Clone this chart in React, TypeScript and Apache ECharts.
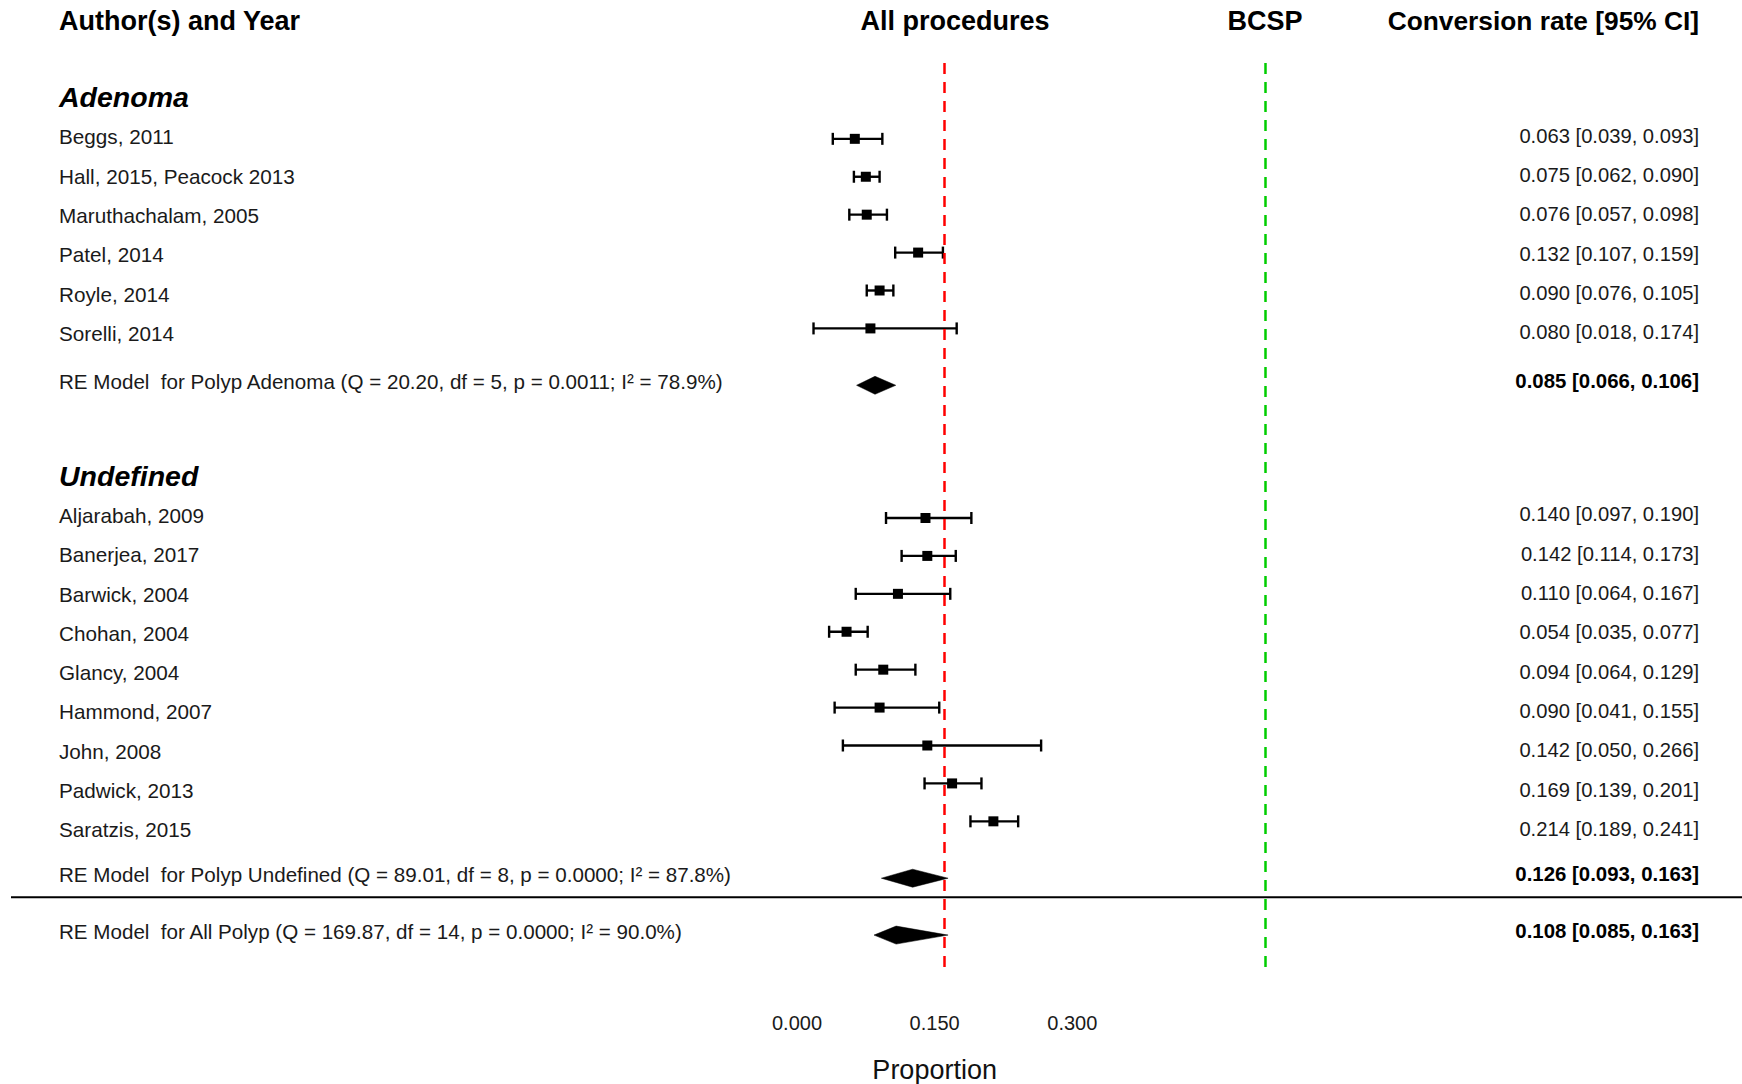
import React, { useEffect, useRef } from "react";
import * as echarts from "echarts";

// ---- data ----
const adenomaNames = [
  "Beggs, 2011",
  "Hall, 2015, Peacock 2013",
  "Maruthachalam, 2005",
  "Patel, 2014",
  "Royle, 2014",
  "Sorelli, 2014",
];
const adenomaEst = [0.063, 0.075, 0.076, 0.132, 0.09, 0.08];
const adenomaLo = [0.039, 0.062, 0.057, 0.107, 0.076, 0.018];
const adenomaHi = [0.093, 0.09, 0.098, 0.159, 0.105, 0.174];

const undefinedNames = [
  "Aljarabah, 2009",
  "Banerjea, 2017",
  "Barwick, 2004",
  "Chohan, 2004",
  "Glancy, 2004",
  "Hammond, 2007",
  "John, 2008",
  "Padwick, 2013",
  "Saratzis, 2015",
];
const undefinedEst = [0.14, 0.142, 0.11, 0.054, 0.094, 0.09, 0.142, 0.169, 0.214];
const undefinedLo = [0.097, 0.114, 0.064, 0.035, 0.064, 0.041, 0.05, 0.139, 0.189];
const undefinedHi = [0.19, 0.173, 0.167, 0.077, 0.129, 0.155, 0.266, 0.201, 0.241];

const pooledLabels = [
  "RE Model  for Polyp Adenoma (Q = 20.20, df = 5, p = 0.0011; I² = 78.9%)",
  "RE Model  for Polyp Undefined (Q = 89.01, df = 8, p = 0.0000; I² = 87.8%)",
  "RE Model  for All Polyp (Q = 169.87, df = 14, p = 0.0000; I² = 90.0%)",
];
const pooledEst = [0.085, 0.126, 0.108];
const pooledLo = [0.066, 0.093, 0.085];
const pooledHi = [0.106, 0.163, 0.163];

const groupTitles = ["Adenoma", "Undefined"];
const columnHeaders = ["Author(s) and Year", "All procedures", "BCSP", "Conversion rate [95% CI]"];
const refAllProcedures = 0.16;
const refBCSP = 0.51;
const tickValues = [0, 0.15, 0.3];
const axisTitle = "Proportion";

const FONT = '"Liberation Sans", Arial, Helvetica, sans-serif';

const fmt = (e: number, l: number, h: number) =>
  `${e.toFixed(3)} [${l.toFixed(3)}, ${h.toFixed(3)}]`;

export default function App() {
  const ref = useRef<HTMLDivElement>(null);

  useEffect(() => {
    document.body.style.margin = "0";
    const chart = echarts.init(ref.current!, null, { renderer: "svg", width: 1742, height: 1084 });

    // row layout (plot rows)
    const nA = adenomaNames.length;
    const adenomaRows = adenomaNames.map((_, i) => i);
    const adenomaPooledRow = nA + 0.5;
    const undefStart = nA + 4;
    const undefinedRows = undefinedNames.map((_, i) => undefStart + i);
    const undefPooledRow = undefStart + undefinedNames.length + 0.5;
    const separatorRow = undefPooledRow + 0.5;
    const allPooledRow = separatorRow + 1;
    const pooledRows = [adenomaPooledRow, undefPooledRow, allPooledRow];

    const studyData: number[][] = [];
    adenomaNames.forEach((_, i) => studyData.push([adenomaLo[i], adenomaHi[i], adenomaEst[i], adenomaRows[i]]));
    undefinedNames.forEach((_, i) =>
      studyData.push([undefinedLo[i], undefinedHi[i], undefinedEst[i], undefinedRows[i]])
    );
    const pooledData = pooledEst.map((e, i) => [pooledLo[i], pooledHi[i], e, pooledRows[i]]);

    const option: any = {
      animation: false,
      backgroundColor: "#ffffff",
      grid: { left: 797, right: 27.3, top: 63, bottom: 111, containLabel: false, outerBoundsMode: "none" },
      xAxis: {
        type: "value",
        min: 0,
        max: 1,
        interval: 0.15,
        axisLine: { show: false },
        axisTick: { show: false },
        splitLine: { show: false },
        axisLabel: {
          margin: 40,
          fontSize: 20,
          fontFamily: FONT,
          color: "#1a1a1a",
          showMaxLabel: false,
          formatter: (v: number) =>
            tickValues.some((t) => Math.abs(t - v) < 1e-6) ? v.toFixed(3) : "",
        },
      },
      yAxis: { type: "value", inverse: true, min: -2, max: 22, show: false },
      series: [
        {
          type: "custom",
          name: "studies",
          data: studyData,
          encode: { x: [0, 1, 2], y: 3 },
          renderItem: (params: any, api: any) => {
            const row = api.value(3);
            const lo = api.coord([api.value(0), row]);
            const hi = api.coord([api.value(1), row]);
            const est = api.coord([api.value(2), row]);
            const st = { stroke: "#000", lineWidth: 2.4 };
            return {
              type: "group",
              children: [
                { type: "line", shape: { x1: lo[0], y1: lo[1], x2: hi[0], y2: hi[1] }, style: st },
                { type: "line", shape: { x1: lo[0], y1: lo[1] - 6, x2: lo[0], y2: lo[1] + 6 }, style: st },
                { type: "line", shape: { x1: hi[0], y1: hi[1] - 6, x2: hi[0], y2: hi[1] + 6 }, style: st },
                { type: "rect", shape: { x: est[0] - 5, y: est[1] - 5, width: 10, height: 10 }, style: { fill: "#000" } },
              ],
            };
          },
          markLine: {
            silent: true,
            symbol: ["none", "none"],
            label: { show: false },
            lineStyle: { type: [11, 8], width: 2.5 },
            data: [
              { xAxis: refAllProcedures, lineStyle: { color: "#ff0000", type: [11, 8], width: 2.5 } },
              { xAxis: refBCSP, lineStyle: { color: "#00cd00", type: [11, 8], width: 2.5 } },
            ],
          },
        },
        {
          type: "custom",
          name: "pooled",
          data: pooledData,
          encode: { x: [0, 1, 2], y: 3 },
          renderItem: (params: any, api: any) => {
            const row = api.value(3);
            const lo = api.coord([api.value(0), row]);
            const hi = api.coord([api.value(1), row]);
            const est = api.coord([api.value(2), row]);
            return {
              type: "polygon",
              shape: {
                points: [
                  [lo[0] - 1, lo[1]],
                  [est[0], est[1] - 9],
                  [hi[0] + 1.5, hi[1]],
                  [est[0], est[1] + 9],
                ],
              },
              style: { fill: "#000", stroke: "#000", lineWidth: 0.5 },
            };
          },
        },
      ],
    };
    chart.setOption(option);

    const px = (v: number) => chart.convertToPixel({ xAxisIndex: 0 }, v) as number;
    const py = (r: number) => chart.convertToPixel({ yAxisIndex: 0 }, r) as number;

    // text layout (the text column is laid out independently of the plot rows)
    const LEFT = 59;
    const RIGHT = 1699;
    const headerY = 21;
    const titleY = [97, 475.6];
    const studyStartY = [136.8, 515.4];
    const textStep = 39.3;
    const pooledTextY = [381, 874.4, 931];

    const g: any[] = [];
    const txt = (text: string, x: number, y: number, opts: any = {}) =>
      g.push({
        type: "text",
        x,
        y,
        silent: true,
        style: {
          text,
          fontFamily: FONT,
          fontSize: 20.7,
          fill: "#1a1a1a",
          verticalAlign: "middle",
          align: "left",
          ...opts,
        },
      });

    const H = { fontSize: 27, fontWeight: "bold", fill: "#000" };
    txt(columnHeaders[0], LEFT, headerY, H);
    txt(columnHeaders[1], 955, headerY, { ...H, align: "center" });
    txt(columnHeaders[2], px(refBCSP), headerY, { ...H, align: "center" });
    txt(columnHeaders[3], RIGHT, headerY, { ...H, fontSize: 26.3, align: "right" });

    groupTitles.forEach((t, i) =>
      txt(t, LEFT, titleY[i], { fontSize: 28.5, fontWeight: "bold", fontStyle: "italic", fill: "#000" })
    );

    const V = { align: "right", fontSize: 20.2 };
    adenomaNames.forEach((n, i) => {
      const y = studyStartY[0] + textStep * i;
      txt(n, LEFT, y);
      txt(fmt(adenomaEst[i], adenomaLo[i], adenomaHi[i]), RIGHT, y - 1, V);
    });
    undefinedNames.forEach((n, i) => {
      const y = studyStartY[1] + textStep * i;
      txt(n, LEFT, y);
      txt(fmt(undefinedEst[i], undefinedLo[i], undefinedHi[i]), RIGHT, y - 1, V);
    });
    pooledLabels.forEach((n, i) => {
      const y = pooledTextY[i];
      txt(n, LEFT, y, { fontSize: 20.6 });
      txt(fmt(pooledEst[i], pooledLo[i], pooledHi[i]), RIGHT, y, {
        align: "right",
        fontSize: 20.4,
        fontWeight: "bold",
        fill: "#000",
      });
    });

    const sy = py(separatorRow);
    g.push({
      type: "line",
      silent: true,
      shape: { x1: 11, y1: sy, x2: 1742, y2: sy },
      style: { stroke: "#000", lineWidth: 2 },
    });

    txt(axisTitle, px(0.15), 1070, { fontSize: 27, align: "center", fill: "#111" });

    chart.setOption({ graphic: g });

    return () => chart.dispose();
  }, []);

  return <div ref={ref} style={{ width: 1742, height: 1084 }} />;
}
